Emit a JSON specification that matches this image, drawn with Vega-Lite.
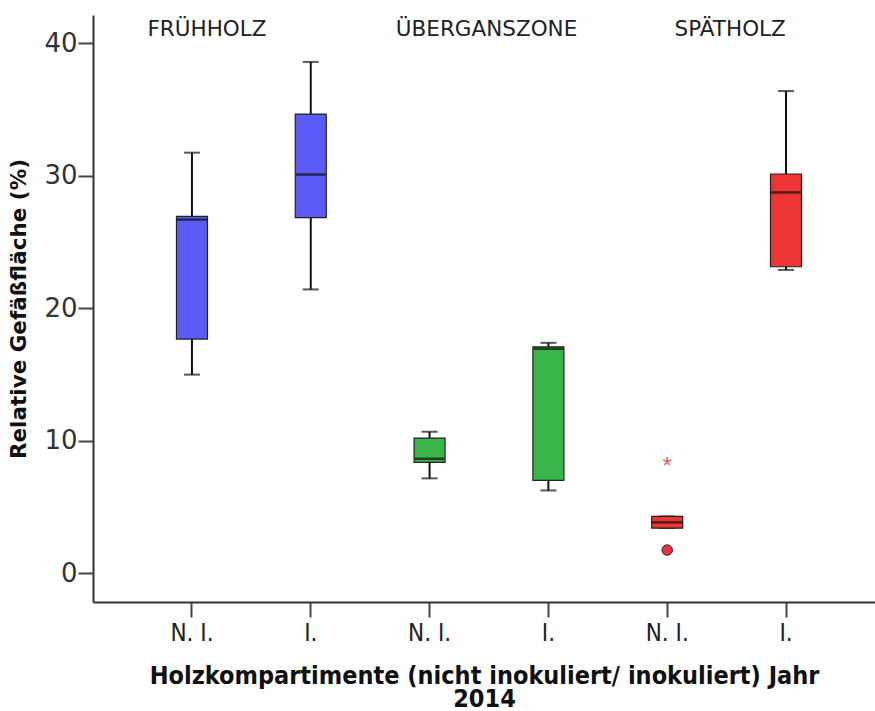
{
  "$schema": "https://vega.github.io/schema/vega-lite/v6.json",
  "width": 782,
  "height": 587,
  "autosize": "none",
  "padding": {"left": 93, "top": 15, "right": 0, "bottom": 109},
  "background": "white",
  "config": {
    "view": {"stroke": null},
    "axis": {"grid": false}
  },
  "datasets": {
    "boxes": [
      {"cat": "c1", "grp": "Frühholz", "lo": 15.0, "q1": 17.68, "med": 26.7, "q3": 26.95, "hi": 31.75},
      {"cat": "c2", "grp": "Frühholz", "lo": 21.43, "q1": 26.85, "med": 30.1, "q3": 34.66, "hi": 38.6},
      {"cat": "c3", "grp": "Übergangszone", "lo": 7.17, "q1": 8.38, "med": 8.65, "q3": 10.21, "hi": 10.69},
      {"cat": "c4", "grp": "Übergangszone", "lo": 6.26, "q1": 7.02, "med": 16.95, "q3": 17.1, "hi": 17.4},
      {"cat": "c5", "grp": "Spätholz", "lo": 3.42, "q1": 3.42, "med": 3.85, "q3": 4.3, "hi": 4.3},
      {"cat": "c6", "grp": "Spätholz", "lo": 22.9, "q1": 23.14, "med": 28.75, "q3": 30.14, "hi": 36.4}
    ],
    "outliers": [
      {"cat": "c5", "grp": "Spätholz", "value": 1.76, "kind": "circle"}
    ],
    "extremes": [
      {"cat": "c5", "grp": "Spätholz", "value": 8.42, "kind": "star"}
    ],
    "groups": [
      {"cat": "c1", "label": "FRÜHHOLZ", "y": 41.0}
    ],
    "groups2": [
      {"cat": "c3", "label": "ÜBERGANSZONE", "y": 41.0}
    ],
    "groups3": [
      {"cat": "c5", "label": "SPÄTHOLZ", "y": 41.0}
    ]
  },
  "encoding": {
    "x": {
      "field": "cat",
      "type": "nominal",
      "sort": ["c1", "c2", "c3", "c4", "c5", "c6"],
      "scale": {"domain": ["c1", "c2", "c3", "c4", "c5", "c6"], "paddingInner": 0, "paddingOuter": 0.291, "align": 0.572},
      "axis": {
        "title": ["Holzkompartimente (nicht inokuliert/ inokuliert) Jahr", "2014"],
        "labelExpr": "indexof(['c1','c3','c5'], datum.value) >= 0 ? 'N. I.' : 'I.'",
        "labelAngle": 0,
        "labelFont": "DejaVu Sans Condensed",
        "labelFontSize": 24,
        "labelColor": "#222",
        "labelPadding": 4,
        "tickSize": 15,
        "tickWidth": 2,
        "tickColor": "#444",
        "domainColor": "#333",
        "domainWidth": 2,
        "titleFont": "DejaVu Sans Condensed",
        "titleFontSize": 25,
        "titleFontWeight": "bold",
        "titleColor": "#111",
        "titleLineHeight": 23,
        "titleBaseline": "top",
        "titlePadding": 18
      }
    }
  },
  "layer": [
    {
      "mark": {"type": "rule", "color": "#777", "strokeWidth": 2},
      "encoding": {"y": {"datum": 42.14, "type": "quantitative"}, "x": null}
    },
    {
      "data": {"name": "boxes"},
      "mark": {"type": "rule", "color": "#111", "strokeWidth": 2},
      "encoding": {
        "y": {
          "field": "lo",
          "type": "quantitative",
          "scale": {"domain": [-2.16, 42.14], "nice": false, "zero": false},
          "axis": {
            "title": "Relative Gefäßfläche (%)",
            "values": [0, 10, 20, 30, 40],
            "tickSize": 15,
            "tickWidth": 2,
            "tickColor": "#444",
            "domainColor": "#333",
            "domainWidth": 2,
            "labelFont": "DejaVu Sans",
            "labelFontSize": 26,
            "labelColor": "#333",
            "labelPadding": 1,
            "titleFont": "DejaVu Sans",
            "titleFontSize": 21.5,
            "titleFontWeight": "bold",
            "titleColor": "#111",
            "titlePadding": 13
          }
        },
        "y2": {"field": "hi"}
      }
    },
    {
      "data": {"name": "boxes"},
      "mark": {"type": "tick", "color": "#111", "thickness": 2, "size": 16},
      "encoding": {"y": {"field": "lo", "type": "quantitative"}}
    },
    {
      "data": {"name": "boxes"},
      "mark": {"type": "tick", "color": "#111", "thickness": 2, "size": 16},
      "encoding": {"y": {"field": "hi", "type": "quantitative"}}
    },
    {
      "data": {"name": "boxes"},
      "mark": {"type": "bar", "size": 31, "stroke": "#222", "strokeWidth": 1.2},
      "encoding": {
        "y": {"field": "q1", "type": "quantitative"},
        "y2": {"field": "q3"},
        "color": {
          "field": "grp",
          "type": "nominal",
          "scale": {"domain": ["Frühholz", "Übergangszone", "Spätholz"], "range": ["#5B5BF7", "#3AB54A", "#EE3434"]},
          "legend": null
        }
      }
    },
    {
      "data": {"name": "boxes"},
      "mark": {"type": "tick", "color": "#111", "thickness": 2.5, "size": 30},
      "encoding": {"y": {"field": "med", "type": "quantitative"}}
    },
    {
      "data": {"name": "outliers"},
      "mark": {"type": "point", "shape": "circle", "filled": true, "opacity": 1, "size": 110, "stroke": "#4a1a1a", "strokeWidth": 1},
      "encoding": {
        "y": {"field": "value", "type": "quantitative"},
        "fill": {"value": "#E8343F"}
      }
    },
    {
      "data": {"name": "extremes"},
      "mark": {"type": "text", "text": "*", "fontSize": 24, "color": "#E46070", "baseline": "middle", "dy": 5},
      "encoding": {"y": {"field": "value", "type": "quantitative"}}
    },
    {
      "data": {"name": "groups"},
      "mark": {"type": "text", "font": "DejaVu Sans", "fontSize": 21.5, "color": "#222", "baseline": "middle", "dx": 15},
      "encoding": {"y": {"field": "y", "type": "quantitative"}, "text": {"field": "label"}}
    },
    {
      "data": {"name": "groups2"},
      "mark": {"type": "text", "font": "DejaVu Sans", "fontSize": 21.5, "color": "#222", "baseline": "middle", "dx": 57},
      "encoding": {"y": {"field": "y", "type": "quantitative"}, "text": {"field": "label"}}
    },
    {
      "data": {"name": "groups3"},
      "mark": {"type": "text", "font": "DejaVu Sans", "fontSize": 21.5, "color": "#222", "baseline": "middle", "dx": 63},
      "encoding": {"y": {"field": "y", "type": "quantitative"}, "text": {"field": "label"}}
    }
  ]
}
